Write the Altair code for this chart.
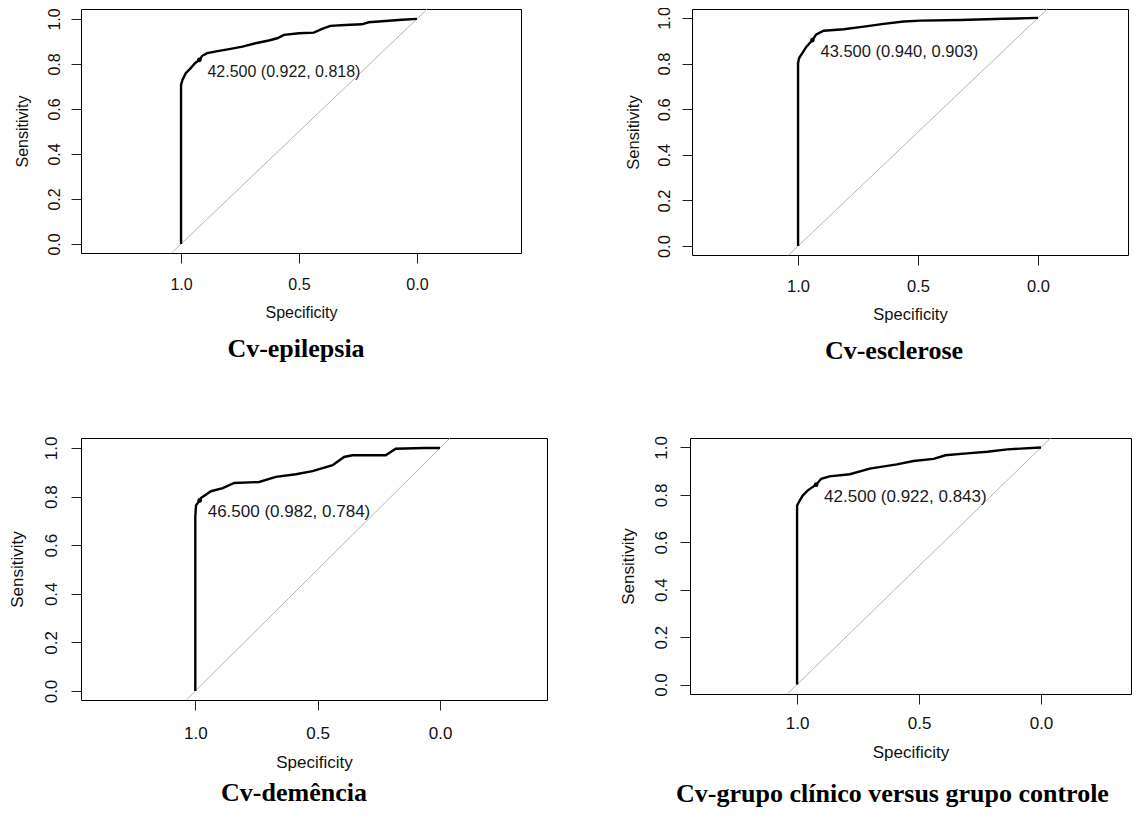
import altair as alt
import pandas as pd

# ---- data (specificity, sensitivity) ----
p1_spec = [1.0, 1.0, 0.994, 0.980, 0.959, 0.941, 0.922, 0.910, 0.889, 0.839, 0.790, 0.740, 0.684,
           0.628, 0.592, 0.564, 0.500, 0.437, 0.402, 0.367, 0.303, 0.233, 0.205, 0.134, 0.063, 0.0]
p1_sens = [0.0, 0.707, 0.729, 0.759, 0.781, 0.803, 0.818, 0.836, 0.848, 0.858, 0.867, 0.877, 0.892,
           0.904, 0.914, 0.929, 0.936, 0.939, 0.956, 0.969, 0.973, 0.976, 0.985, 0.991, 0.996, 1.0]

p2_spec = [1.0, 1.0, 0.996, 0.983, 0.965, 0.940, 0.924, 0.893, 0.810, 0.726, 0.643, 0.560, 0.490,
           0.324, 0.143, 0.0]
p2_sens = [0.0, 0.801, 0.823, 0.845, 0.874, 0.903, 0.928, 0.944, 0.950, 0.962, 0.974, 0.984, 0.988,
           0.991, 0.996, 1.0]

p3_spec = [1.0, 1.0, 0.997, 0.982, 0.977, 0.936, 0.888, 0.841, 0.739, 0.671, 0.589, 0.521, 0.439,
           0.392, 0.358, 0.222, 0.181, 0.065, 0.0]
p3_sens = [0.0, 0.716, 0.764, 0.784, 0.794, 0.822, 0.835, 0.856, 0.860, 0.881, 0.892, 0.905, 0.929,
           0.963, 0.970, 0.970, 0.997, 1.0, 1.0]

p4_spec = [1.0, 1.0, 0.993, 0.977, 0.956, 0.922, 0.901, 0.867, 0.784, 0.702, 0.591, 0.523, 0.440,
           0.392, 0.303, 0.220, 0.138, 0.0]
p4_sens = [0.0, 0.755, 0.769, 0.797, 0.819, 0.843, 0.868, 0.878, 0.887, 0.911, 0.929, 0.943, 0.952,
           0.967, 0.975, 0.982, 0.992, 1.0]

thresholds = [42.5, 43.5, 46.5, 42.5]
best_spec = [0.922, 0.940, 0.982, 0.922]
best_sens = [0.818, 0.903, 0.784, 0.843]
titles = ["Cv-epilepsia", "Cv-esclerose", "Cv-demência", "Cv-grupo clínico versus grupo controle"]

x_ticks = [0.0, 0.5, 1.0]
y_ticks = [0.0, 0.2, 0.4, 0.6, 0.8, 1.0]

SANS = "Liberation Sans"
SERIF = "Liberation Serif"


def panel(spec, sens, k, w, h, xdom, ydom, fs, x_lp, x_tp, y_lp, y_tp, t_dx, t_off):
    df = pd.DataFrame({"spec": spec, "sens": sens, "i": list(range(len(spec)))})
    xs = alt.Scale(domain=xdom, reverse=True, nice=False, zero=False)
    ys = alt.Scale(domain=ydom, nice=False, zero=False)
    xaxis = alt.Axis(values=x_ticks, format=".1f", title="Specificity", grid=False, domain=False,
                     tickSize=10, tickColor="#222", labelFontSize=fs, titleFontSize=fs,
                     labelPadding=x_lp, titlePadding=x_tp, labelFont=SANS, titleFont=SANS,
                     labelColor="#111", titleColor="#111", titleFontWeight="normal")
    yaxis = alt.Axis(values=y_ticks, format=".1f", title="Sensitivity", grid=False, domain=False,
                     tickSize=10, tickColor="#222", labelFontSize=fs, titleFontSize=fs,
                     labelAngle=270, labelAlign="center", labelBaseline="bottom",
                     labelPadding=y_lp, titlePadding=y_tp, labelFont=SANS, titleFont=SANS,
                     labelColor="#111", titleColor="#111", titleFontWeight="normal")
    X = alt.X("spec:Q", scale=xs, axis=xaxis)
    Y = alt.Y("sens:Q", scale=ys, axis=yaxis)

    # identity reference line (sens = 1 - spec), running from the bottom edge to the top edge
    d_spec = [1 - ydom[0], 1 - ydom[1]]
    diag = pd.DataFrame({"spec": d_spec, "sens": [1 - v for v in d_spec]})
    dline = alt.Chart(diag).mark_line(color="#b5b5b5", strokeWidth=1).encode(x=X, y=Y)
    curve = alt.Chart(df).mark_line(color="black", strokeWidth=2.4).encode(x=X, y=Y, order="i:Q")

    lab = f"{thresholds[k]:.3f} ({best_spec[k]:.3f}, {best_sens[k]:.3f})"
    bdf = pd.DataFrame({"spec": [best_spec[k]], "sens": [best_sens[k]], "label": [lab]})
    pt = alt.Chart(bdf).mark_point(filled=True, size=22, color="black", opacity=1).encode(x=X, y=Y)
    txt = alt.Chart(bdf).mark_text(align="left", baseline="middle", dx=8, dy=12, fontSize=fs,
                                   font=SANS, color="#1a1a1a").encode(x=X, y=Y, text="label:N")
    return alt.layer(dline, curve, pt, txt).properties(
        width=w, height=h,
        title=alt.TitleParams(titles[k], orient="bottom", anchor="middle", baseline="top",
                              font=SERIF, fontSize=26, fontWeight="bold", color="black",
                              dx=t_dx, offset=t_off))


p1 = panel(p1_spec, p1_sens, 0, 440, 244, [-0.441, 1.424], [-0.04, 1.044], 16,
           13, 12, 8.5, 16.5, -5, 15.5)
p2 = panel(p2_spec, p2_sens, 1, 436, 246, [-0.375, 1.442], [-0.039, 1.039], 16.5,
           13, 11.5, 9.5, 15.5, -16, 15.5)
p3 = panel(p3_spec, p3_sens, 2, 466, 262, [-0.437, 1.467], [-0.037, 1.041], 17,
           15, 13, 10.4, 16, -20, 10)
p4 = panel(p4_spec, p4_sens, 3, 441, 256, [-0.369, 1.439], [-0.04, 1.04], 17,
           11, 13, 9.4, 15.6, -18, 21)

row1 = alt.hconcat(p1, p2, spacing=102)
row2 = alt.hconcat(p3, p4, spacing=70)
chart = alt.vconcat(row1, row2, spacing=70).properties(
    padding={"left": 0, "top": -3, "right": 0, "bottom": 0}
).configure_view(stroke="black", strokeWidth=1)

chart.save("out.html", embed_options={"renderer": "svg", "actions": False})
